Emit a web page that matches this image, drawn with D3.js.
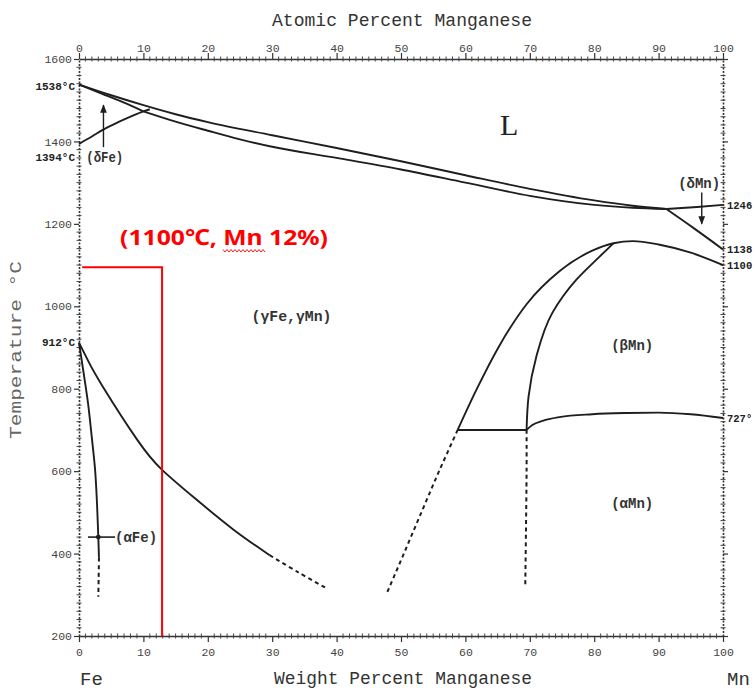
<!DOCTYPE html>
<html><head><meta charset="utf-8">
<script src="https://cdn.jsdelivr.net/npm/d3@7"></script>
<style>body{margin:0;background:#fff;} svg{display:block;}</style>
</head><body>
<svg id="chart" width="755" height="693"></svg>
<script>
// ---------- data ----------
const xTicks = [0,10,20,30,40,50,60,70,80,90,100];
const yTicks = [200,400,600,800,1000,1200,1400,1600];

const liquidus = [[0,1538],[5,1512],[10,1488],[15,1466],[20,1447],[30,1415],[40,1384],[50,1352],[60,1318],[70,1285],[80,1257],[86,1244],[91.2,1236]];
const gammaSolidus = [[10,1473],[15,1448],[20,1426],[25,1405],[30,1387],[40,1360],[50,1332],[60,1300],[70,1268],[80,1246],[86,1239],[91.2,1236]];
const deltaSolidus = [[0,1538],[3.7,1515],[7,1494],[10,1473]];
const deltaGamma = [[0,1394],[2,1412],[3.7,1428],[6,1446],[8,1460],[10,1473],[11,1478]];
const deltaMnTop = [[91.2,1236],[96,1241],[100,1246]];
const deltaMnLow = [[91.2,1236],[95.5,1189],[100,1138]];
const betaOuter = [[58.8,700],[61.7,797],[65.3,905],[69.5,1005],[74.6,1085],[79.7,1135],[83,1153],[86,1158],[90,1150],[95,1130],[100,1100]];
const betaInner = [[83,1153],[80.8,1120],[77.2,1064],[73.5,984],[71,877],[69.8,780],[69.5,700]];
const eutectoid = [[58.8,700],[69.5,700]];
const betaAlpha = [[69.5,700],[70.4,712],[72,722],[74.6,731],[79.7,738],[85,741],[90,742],[95,738],[100,729]];
const gammaDashed = [[58.8,700],[56,603],[53.3,505],[50.5,402],[47.8,304]];
const verticalDashed = [[69.5,700],[69.5,600],[69.4,450],[69.3,325]];
const alphaFeSolid = [[0,912],[0.7,840],[1.4,765],[2.0,680],[2.5,603],[2.8,520],[3.0,440],[3.1,390]];
const alphaFeDashed = [[3.1,390],[3.05,340],[3.0,295]];
const gammaAlphaSolid = [[0,912],[1.5,865],[3.7,805],[9,677],[12.9,603],[18,534],[24,458],[29.6,396]];
const gammaAlphaDashed = [[29.6,396],[34,355],[38.4,316]];

const redPoint = [12.9, 1095];
const leftSpecial = [{t:1538,label:"1538°C",dy:2},{t:1394,label:"1394°C",dy:13},{t:912,label:"912°C",dy:0}];
const rightSpecial = [{t:1246,label:"1246"},{t:1138,label:"1138"},{t:1100,label:"1100"},{t:727,label:"727°"}];
const phaseLabels = [
  {wt:33,t:976,label:"(γFe,γMn)",w:80},
  {wt:85.9,t:906,label:"(βMn)",w:42},
  {wt:85.9,t:522,label:"(αMn)",w:42},
  {wt:4,t:1362,label:"(δFe)",w:37},
  {wt:96.3,t:1299,label:"(δMn)",w:42}
];

// ---------- setup ----------
const svg = d3.select("#chart");
const x = d3.scaleLinear().domain([0,100]).range([79,723]);
const y = d3.scaleLinear().domain([200,1600]).range([636,59]);
const ink = "#1e1e1e";
const mono = "'Liberation Mono','DejaVu Sans Mono',monospace";

const lineX = d3.line().x(d=>x(d[0])).y(d=>y(d[1])).curve(d3.curveMonotoneX);
const lineY = d3.line().x(d=>x(d[0])).y(d=>y(d[1])).curve(d3.curveMonotoneY);
const lineN = d3.line().x(d=>x(d[0])).y(d=>y(d[1])).curve(d3.curveNatural);
const lineC = d3.line().x(d=>x(d[0])).y(d=>y(d[1])).curve(d3.curveCatmullRom.alpha(0.5));
const straight = d3.line().x(d=>x(d[0])).y(d=>y(d[1]));

// ---------- axes ----------
const fmt = d3.format("d");
const gTop = svg.append("g").attr("transform",`translate(0,${y(1600)})`)
  .call(d3.axisTop(x).tickValues(xTicks).tickFormat(fmt).tickSize(6).tickPadding(1).tickSizeOuter(0));
const gBot = svg.append("g").attr("transform",`translate(0,${y(200)})`)
  .call(d3.axisBottom(x).tickValues(xTicks).tickFormat(fmt).tickSize(6).tickPadding(6).tickSizeOuter(0));
const gLeft = svg.append("g").attr("transform",`translate(${x(0)},0)`)
  .call(d3.axisLeft(y).tickValues(yTicks).tickFormat(fmt).tickSize(5).tickPadding(2).tickSizeOuter(0));
const gRight = svg.append("g").attr("transform",`translate(${x(100)},0)`)
  .call(d3.axisRight(y).tickValues(yTicks).tickSize(5).tickFormat("").tickSizeOuter(0));

[gTop,gBot,gLeft,gRight].forEach(g=>{
  g.selectAll("path.domain").attr("stroke","#333").attr("stroke-width",1.3);
  g.selectAll(".tick line").attr("stroke","#333").attr("stroke-width",1.2);
  g.selectAll("text").attr("font-family",mono).attr("font-size",11.5).attr("fill","#444");
});
[gLeft,gRight].forEach(g=>g.selectAll("path.domain").attr("stroke-dasharray","2,1.5").attr("stroke-width",1.6));

// minor ticks
const minorX = d3.range(0,101,1).filter(v=>v%10!==0);
[y(1600),y(200)].forEach(yy=>{
  svg.append("g").selectAll("line").data(minorX).join("line")
    .attr("x1",d=>x(d)).attr("x2",d=>x(d)).attr("y1",yy-2.5).attr("y2",yy+2.5)
    .attr("stroke","#444").attr("stroke-width",1);
});
const minorY = d3.range(220,1600,20).filter(v=>v%200!==0);
[x(0),x(100)].forEach(xx=>{
  svg.append("g").selectAll("line").data(minorY).join("line")
    .attr("x1",xx-2.5).attr("x2",xx+2.5).attr("y1",d=>y(d)).attr("y2",d=>y(d))
    .attr("stroke","#444").attr("stroke-width",1);
});

// ---------- curves ----------
const solidX = [liquidus,gammaSolidus,deltaSolidus,deltaGamma,deltaMnTop,deltaMnLow,betaOuter,betaAlpha];
svg.append("g").selectAll("path").data(solidX).join("path")
  .attr("d",lineX).attr("fill","none").attr("stroke",ink).attr("stroke-width",1.9);
svg.append("path").attr("d",lineN(gammaAlphaSolid)).attr("fill","none").attr("stroke",ink).attr("stroke-width",1.9);
svg.append("g").selectAll("path").data([betaInner,alphaFeSolid]).join("path")
  .attr("d",lineY).attr("fill","none").attr("stroke",ink).attr("stroke-width",1.9);
svg.append("path").attr("d",straight(eutectoid)).attr("fill","none").attr("stroke",ink).attr("stroke-width",2);
svg.append("g").selectAll("path").data([gammaDashed,verticalDashed,alphaFeDashed,gammaAlphaDashed]).join("path")
  .attr("d",lineC).attr("fill","none").attr("stroke",ink).attr("stroke-width",2).attr("stroke-dasharray","4,3.5");

// alpha Fe pointer
svg.append("line").attr("x1",x(1.4)).attr("x2",x(5.6)).attr("y1",y(440)).attr("y2",y(440)).attr("stroke",ink).attr("stroke-width",1.6);
svg.append("circle").attr("cx",x(3.0)).attr("cy",y(440)).attr("r",2.4).attr("fill",ink);
svg.append("text").attr("x",x(5.6)).attr("y",y(440)).attr("dy","0.35em").attr("font-family",mono).attr("font-weight","bold")
  .attr("font-size",14).attr("fill","#333").attr("textLength",42).attr("lengthAdjust","spacingAndGlyphs").text("(αFe)");

// arrows
const defs = svg.append("defs");
defs.append("marker").attr("id","ah").attr("viewBox","0 0 10 10").attr("refX",9).attr("refY",5)
  .attr("markerWidth",6).attr("markerHeight",8).attr("orient","auto-start-reverse")
  .append("path").attr("d","M0,1 L10,5 L0,9 Z").attr("fill",ink);
svg.append("line").attr("x1",x(3.8)).attr("x2",x(3.8)).attr("y1",y(1386)).attr("y2",y(1488))
  .attr("stroke",ink).attr("stroke-width",1.4).attr("marker-end","url(#ah)");
svg.append("line").attr("x1",x(96.7)).attr("x2",x(96.7)).attr("y1",y(1276)).attr("y2",y(1200))
  .attr("stroke",ink).attr("stroke-width",1.4).attr("marker-end","url(#ah)");

// ---------- labels ----------
svg.append("g").selectAll("text").data(phaseLabels).join("text")
  .attr("x",d=>x(d.wt)).attr("y",d=>y(d.t)).attr("dy","0.35em").attr("text-anchor","middle")
  .attr("font-family",mono).attr("font-weight","bold").attr("font-size",14).attr("fill","#333")
  .attr("textLength",d=>d.w).attr("lengthAdjust","spacingAndGlyphs").text(d=>d.label);

svg.append("text").attr("x",x(66.8)).attr("y",y(1440)).attr("dy","0.35em").attr("text-anchor","middle")
  .attr("font-family","'Liberation Serif',serif").attr("font-size",30).attr("fill","#222").text("L");

svg.append("g").selectAll("text").data(leftSpecial).join("text")
  .attr("x",75).attr("y",d=>y(d.t)+d.dy).attr("dy","0.35em").attr("text-anchor","end")
  .attr("font-family",mono).attr("font-weight","bold").attr("font-size",11).attr("fill","#222")
  .text(d=>d.label);
svg.append("g").selectAll("text").data(rightSpecial).join("text")
  .attr("x",727).attr("y",d=>y(d.t)).attr("dy","0.35em")
  .attr("font-family",mono).attr("font-weight","bold").attr("font-size",10.5).attr("fill","#222")
  .text(d=>d.label);

// axis titles
svg.append("text").attr("x",402).attr("y",26).attr("text-anchor","middle").attr("font-family",mono)
  .attr("font-size",19).attr("fill","#333").attr("textLength",260).attr("lengthAdjust","spacingAndGlyphs").text("Atomic Percent Manganese");
svg.append("text").attr("x",403).attr("y",684).attr("text-anchor","middle").attr("font-family",mono)
  .attr("font-size",19).attr("fill","#333").attr("textLength",258).attr("lengthAdjust","spacingAndGlyphs").text("Weight Percent Manganese");
svg.append("text").attr("x",80).attr("y",685).attr("font-family",mono)
  .attr("font-size",19).attr("fill","#333").text("Fe");
svg.append("text").attr("x",727).attr("y",685).attr("font-family",mono)
  .attr("font-size",19).attr("fill","#333").text("Mn");
svg.append("text").attr("transform","translate(21,350) rotate(-90)").attr("text-anchor","middle")
  .attr("font-family",mono).attr("font-size",17).attr("fill","#666")
  .attr("textLength",178).attr("lengthAdjust","spacingAndGlyphs").text("Temperature °C");

// ---------- red annotation ----------
const red = "#ff0000";
svg.append("path").attr("d",straight([[0.5,redPoint[1]],[redPoint[0],redPoint[1]],[redPoint[0],200]]))
  .attr("fill","none").attr("stroke",red).attr("stroke-width",2);
svg.append("text").attr("x",120).attr("y",245).attr("font-family","'Noto Sans','Liberation Sans',sans-serif")
  .attr("font-weight","bold").attr("font-size",22).attr("fill",red)
  .attr("textLength",208).attr("lengthAdjust","spacingAndGlyphs").text("(1100℃, Mn 12%)");
// spell-check squiggle under "Mn"
const sq = d3.range(0,22).map(i=>[223+i*2,i%2?252:249.5]);
svg.append("path").attr("d",d3.line()(sq)).attr("fill","none").attr("stroke",red).attr("stroke-width",0.9);
</script>
</body></html>
